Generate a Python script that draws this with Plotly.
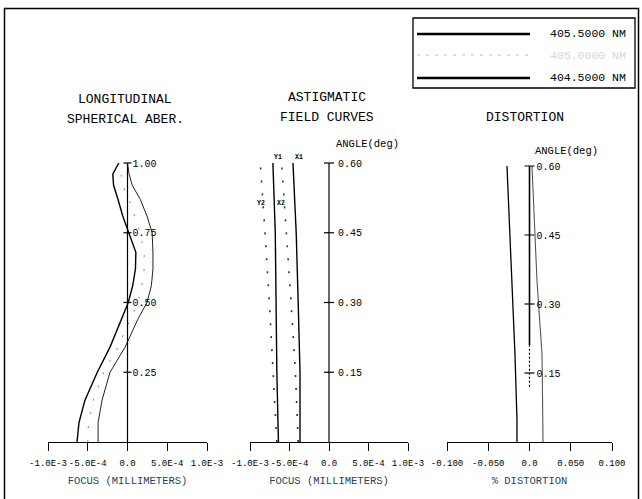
import plotly.graph_objects as go

W, H = 642, 499
FONT = "Liberation Mono"

# ---------------- data ----------------
wavelengths = ["405.5000 NM", "405.0000 NM", "404.5000 NM"]

# Longitudinal spherical aberration: focus shift (mm) vs normalized pupil
lsa_pupil = [0.0, 0.07, 0.15, 0.25, 0.34, 0.44, 0.50, 0.56, 0.62, 0.68, 0.75, 0.81, 0.87, 0.92, 0.96, 1.0]
lsa_405_5 = [-6.35e-4, -6.1e-4, -5.35e-4, -3.8e-4, -2.2e-4, -0.7e-4, 0.1e-4, 0.65e-4, 1.0e-4, 1.05e-4,
             0.2e-4, -0.6e-4, -1.2e-4, -1.75e-4, -1.85e-4, -1.1e-4]
lsa_405_0 = [-5.0e-4, -4.9e-4, -4.3e-4, -3.0e-4, -1.2e-4, 0.3e-4, 1.3e-4, 1.8e-4, 2.1e-4, 2.1e-4,
             1.6e-4, 0.9e-4, 0.2e-4, -0.6e-4, -0.8e-4, -0.5e-4]
lsa_404_5 = [-3.7e-4, -3.7e-4, -3.2e-4, -2.2e-4, -0.3e-4, 1.3e-4, 2.45e-4, 3.0e-4, 3.2e-4, 3.2e-4,
             3.1e-4, 2.45e-4, 1.6e-4, 0.6e-4, 0.2e-4, 0.0]
lsa_ticks = [0.25, 0.50, 0.75, 1.00]

# Astigmatic field curves: focus (mm) vs field angle (deg)
ast_angle = [0.0, 0.15, 0.30, 0.45, 0.60]
ast_y1 = [-6.4e-4, -6.6e-4, -6.7e-4, -6.8e-4, -7.1e-4]
ast_x1 = [-3.67e-4, -3.67e-4, -3.9e-4, -4.15e-4, -4.56e-4]
ast_y2 = [-6.6e-4, -7.05e-4, -7.55e-4, -8.1e-4, -8.7e-4]
ast_x2 = [-3.9e-4, -4.25e-4, -4.8e-4, -5.4e-4, -6.0e-4]
ang_ticks = [0.15, 0.30, 0.45, 0.60]

# Distortion (%) vs field angle (deg)
dist_angle = [0.0, 0.05, 0.19, 0.35, 0.60]
dist_a = [-0.0152, -0.0152, -0.0176, -0.0212, -0.0273]
dist_b = [0.0164, 0.0160, 0.0152, 0.0091, 0.0030]

focus_tickvals = [-1e-3, -5e-4, 0.0, 5e-4, 1e-3]
focus_ticktext = ["-1.0E-3", "-5.0E-4", "0.0", "5.0E-4", "1.0E-3"]
dist_tickvals = [-0.1, -0.05, 0.0, 0.05, 0.1]
dist_ticktext = ["-0.100", "-0.050", "0.0", "0.050", "0.100"]


# ---------------- helpers (layout) ----------------
def px(x):
    return x / W


def py(y):
    return 1 - y / H


def ydomain(pix0, pix_per_unit, top_val):
    return [py(pix0), py(pix0 - pix_per_unit * top_val)]


fig = go.Figure()

BLK = "black"

# Panel 1
fig.add_trace(go.Scatter(x=lsa_405_5, y=lsa_pupil, mode="lines", line=dict(color=BLK, width=1.4),
                         xaxis="x", yaxis="y", showlegend=False))
fig.add_trace(go.Scatter(x=lsa_405_0, y=lsa_pupil, mode="lines",
                         line=dict(color="#9a9a9a", width=1.2, dash="2px,12px"),
                         xaxis="x", yaxis="y", showlegend=False))
fig.add_trace(go.Scatter(x=lsa_404_5, y=lsa_pupil, mode="lines", line=dict(color="#222", width=1.0),
                         xaxis="x", yaxis="y", showlegend=False))

# Panel 2
for xs, style in [(ast_y1, dict(color=BLK, width=1.4)), (ast_x1, dict(color=BLK, width=1.4)),
                  (ast_y2, dict(color="#333", width=1.6, dash="2px,11px")),
                  (ast_x2, dict(color="#333", width=1.6, dash="2px,11px"))]:
    fig.add_trace(go.Scatter(x=xs, y=ast_angle, mode="lines", line=style,
                             xaxis="x2", yaxis="y2", showlegend=False))

# Panel 3
fig.add_trace(go.Scatter(x=dist_a, y=dist_angle, mode="lines", line=dict(color=BLK, width=1.3),
                         xaxis="x3", yaxis="y3", showlegend=False))
fig.add_trace(go.Scatter(x=dist_b, y=dist_angle, mode="lines", line=dict(color="#555", width=1.1),
                         xaxis="x3", yaxis="y3", showlegend=False))

shapes = []
annotations = []


def vline(xr, yr, y0, y1, width=1.2, dash=None, color=BLK):
    d = dict(type="line", xref=xr, yref=yr, x0=0, x1=0, y0=y0, y1=y1,
             line=dict(color=color, width=width))
    if dash:
        d["line"]["dash"] = dash
    shapes.append(d)


def cross_ticks(xr, yr, vals, half=4):
    for v in vals:
        shapes.append(dict(type="line", xref=xr, yref=yr, xsizemode="pixel", xanchor=0,
                           x0=-half, x1=half, y0=v, y1=v, line=dict(color=BLK, width=1.2)))


vline("x", "y", 0, 1.0)
cross_ticks("x", "y", lsa_ticks)
vline("x2", "y2", 0, 0.6)
cross_ticks("x2", "y2", ang_ticks, half=5)
vline("x3", "y3", 0.21, 0.6, width=1.6)
vline("x3", "y3", 0.12, 0.21, width=1.2, dash="2px,2px")
cross_ticks("x3", "y3", ang_ticks, half=5)

# outer frame
shapes.append(dict(type="rect", xref="paper", yref="paper", x0=px(4.5), x1=px(638.5), y0=py(8.5), y1=-0.05,
                   line=dict(color=BLK, width=1.5)))
# legend box
shapes.append(dict(type="rect", xref="paper", yref="paper", x0=px(413), x1=px(635), y0=py(18), y1=py(88),
                   line=dict(color=BLK, width=1.3)))
leg_rows = [(34, dict(color=BLK, width=2.4), BLK),
            (55, dict(color="#bdbdbd", width=1.2, dash="3px,6px"), "#d6d6d6"),
            (78, dict(color=BLK, width=2.4), BLK)]
for (yy, ls, tc), name in zip(leg_rows, wavelengths):
    shapes.append(dict(type="line", xref="paper", yref="paper", x0=px(417), x1=px(530), y0=py(yy), y1=py(yy),
                       line=ls))
    annotations.append(dict(xref="paper", yref="paper", x=px(628), y=py(yy), xanchor="right", yanchor="middle",
                            text=name, showarrow=False, font=dict(family=FONT, size=11.5, color=tc)))


def ptext(x, y, t, size=13, anchor="center"):
    annotations.append(dict(xref="paper", yref="paper", x=px(x), y=py(y), xanchor=anchor, yanchor="middle",
                            text=t, showarrow=False, font=dict(family=FONT, size=size, color=BLK)))


ptext(125, 100, "LONGITUDINAL")
ptext(125, 119, "SPHERICAL ABER.")
ptext(327, 98, "ASTIGMATIC")
ptext(327, 117, "FIELD CURVES")
ptext(525, 117, "DISTORTION")
ptext(367, 144, "ANGLE(deg)", size=10.5)
ptext(566, 151, "ANGLE(deg)", size=10.5)
for x, y, t in [(278, 157, "<b>Y1</b>"), (299, 157, "<b>X1</b>"), (261, 204, "<b>Y2</b>"), (281, 204, "<b>X2</b>")]:
    ptext(x, y, t, size=6.5)

axis_common = dict(showgrid=False, zeroline=False, showline=True, linecolor=BLK, linewidth=1.2,
                   ticks="outside", ticklen=8, tickcolor=BLK, tickwidth=1.2, tickangle=0,
                   ticklabelstandoff=4, automargin=False,
                   tickfont=dict(family=FONT, size=9, color=BLK), fixedrange=True)
y_common = dict(showgrid=False, zeroline=False, showline=False, ticks="", side="right", anchor="free",
                automargin=False,
                tickfont=dict(family=FONT, size=10, color=BLK), fixedrange=True)

fig.update_layout(
    width=W, height=H, autosize=False, margin=dict(l=0, r=0, t=0, b=0, autoexpand=False),
    paper_bgcolor="white", plot_bgcolor="white", showlegend=False,
    xaxis=dict(axis_common, domain=[px(48), px(207)], range=[-1e-3, 1e-3], anchor="y",
               tickvals=focus_tickvals, ticktext=focus_ticktext,
               title=dict(text="FOCUS (MILLIMETERS)", font=dict(family=FONT, size=10.5), standoff=8)),
    yaxis=dict(y_common, domain=ydomain(442, 279, 1.05), range=[0, 1.05], position=px(127.5),
               tickvals=lsa_ticks, ticktext=["0.25", "0.50", "0.75", "1.00"], ticklabelstandoff=4),
    xaxis2=dict(axis_common, domain=[px(250), px(408)], range=[-1e-3, 1e-3], anchor="y2",
                tickvals=focus_tickvals, ticktext=focus_ticktext,
                title=dict(text="FOCUS (MILLIMETERS)", font=dict(family=FONT, size=10.5), standoff=8)),
    yaxis2=dict(y_common, domain=ydomain(442, 465, 0.63), range=[0, 0.63], position=px(329),
                tickvals=ang_ticks, ticktext=["0.15", "0.30", "0.45", "0.60"], ticklabelstandoff=8),
    xaxis3=dict(axis_common, domain=[px(447), px(612)], range=[-0.1, 0.1], anchor="y3",
                tickvals=dist_tickvals, ticktext=dist_ticktext,
                title=dict(text="% DISTORTION", font=dict(family=FONT, size=10.5), standoff=8)),
    yaxis3=dict(y_common, domain=ydomain(442, 460, 0.63), range=[0, 0.63], position=px(529.5),
                tickvals=ang_ticks, ticktext=["0.15", "0.30", "0.45", "0.60"], ticklabelstandoff=6),
    shapes=shapes, annotations=annotations,
)

fig.write_html("out.html", config={"displayModeBar": False, "responsive": False},
               post_script="document.body.style.margin='0';document.body.style.overflow='hidden';")
